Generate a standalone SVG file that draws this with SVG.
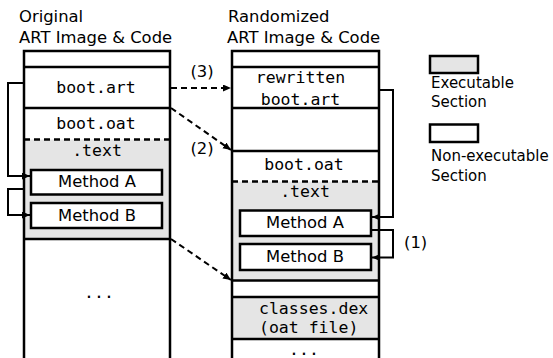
<svg xmlns="http://www.w3.org/2000/svg" width="553" height="358" viewBox="0 0 553 358">
<defs>
<marker id="ah" markerUnits="userSpaceOnUse" markerWidth="10" markerHeight="8" refX="8" refY="3.5" orient="auto">
<path d="M0,0 L8,3.5 L0,7 z" fill="#000"/>
</marker>
<style>
.sans{font-family:"DejaVu Sans","Liberation Sans",sans-serif;font-size:16.4px;fill:#000}
.leg{font-family:"DejaVu Sans","Liberation Sans",sans-serif;font-size:15px;fill:#000}
.mono{font-family:"DejaVu Sans Mono","Liberation Mono",monospace;font-size:16.5px;fill:#000}
.mid{text-anchor:middle}
.box{stroke:#000;stroke-width:2.5;fill:none}
.ln{stroke:#000;stroke-width:2.5;fill:none}
.dash{stroke:#000;stroke-width:2.5;stroke-dasharray:6,4;fill:none}
.gray{fill:#e5e5e5}
.meth{stroke:#000;stroke-width:2.5;fill:#fff}
.conn{stroke:#000;stroke-width:2;fill:none}
.dconn{stroke:#000;stroke-width:2;fill:none;stroke-dasharray:6,4}
</style>
</defs>
<rect width="553" height="358" fill="#fff"/>

<g id="title-original">
<text class="sans" x="19" y="21.5">Original</text>
<text class="sans" x="19" y="42.5">ART Image &amp; Code</text>
</g>
<g id="title-randomized">
<text class="sans" x="228" y="21.5">Randomized</text>
<text class="sans" x="227" y="42.5">ART Image &amp; Code</text>
</g>

<g id="original-image">
<rect class="gray" x="24" y="139.5" width="146" height="99.5"/>
<path class="box" d="M24,360 V51 H170 V360"/>
<line class="ln" x1="24" y1="67" x2="170" y2="67"/>
<line class="ln" x1="24" y1="108" x2="170" y2="108"/>
<line class="dash" x1="24" y1="139.5" x2="170" y2="139.5"/>
<line class="ln" x1="24" y1="239" x2="170" y2="239"/>
<text class="mono mid" x="96" y="93">boot.art</text>
<text class="mono mid" x="96" y="129">boot.oat</text>
<text class="mono mid" x="97" y="156">.text</text>
<text class="mono mid" x="99" y="298">...</text>
</g>
<g id="orig-method-a">
<rect class="meth" x="31" y="170" width="131" height="24.5"/>
<text class="sans mid" x="97" y="187">Method A</text>
</g>
<g id="orig-method-b">
<rect class="meth" x="31" y="203" width="131" height="25"/>
<text class="sans mid" x="97" y="220.5">Method B</text>
</g>

<g id="randomized-image">
<rect class="gray" x="232" y="181.5" width="147" height="99"/>
<rect class="gray" x="232" y="297" width="147" height="42"/>
<path class="box" d="M232,360 V51 H379 V360"/>
<line class="ln" x1="232" y1="67" x2="379" y2="67"/>
<line class="ln" x1="232" y1="108" x2="379" y2="108"/>
<line class="ln" x1="232" y1="151" x2="379" y2="151"/>
<line class="dash" x1="232" y1="181.5" x2="379" y2="181.5"/>
<line class="ln" x1="232" y1="280.5" x2="379" y2="280.5"/>
<line class="ln" x1="232" y1="297" x2="379" y2="297"/>
<line class="ln" x1="232" y1="339" x2="379" y2="339"/>
<text class="mono mid" x="300.5" y="83">rewritten</text>
<text class="mono mid" x="300.5" y="105">boot.art</text>
<text class="mono mid" x="304" y="170">boot.oat</text>
<text class="mono mid" x="305" y="197">.text</text>
<text class="mono" x="259" y="313.5">classes.dex</text>
<text class="mono" x="259" y="333">(oat file)</text>
<text class="mono mid" x="304" y="355">...</text>
</g>
<g id="rand-method-a">
<rect class="meth" x="240" y="210.5" width="131" height="25.5"/>
<text class="sans mid" x="305" y="228">Method A</text>
</g>
<g id="rand-method-b">
<rect class="meth" x="240" y="244" width="131" height="26"/>
<text class="sans mid" x="305" y="261.5">Method B</text>
</g>

<g id="legend">
<rect class="gray" x="430" y="56" width="48" height="17" stroke="#000" stroke-width="2.5"/>
<text class="leg" x="431" y="88">Executable</text>
<text class="leg" x="431" y="107">Section</text>
<rect x="430" y="124.5" width="48" height="17.5" fill="#fff" stroke="#000" stroke-width="2.5"/>
<text class="leg" x="431" y="160.5">Non-executable</text>
<text class="leg" x="431" y="180.5">Section</text>
</g>

<g id="connectors">
<path class="conn" d="M24,83 H8 V176 H30" marker-end="url(#ah)"/>
<path class="conn" d="M24,189 H8 V215 H30" marker-end="url(#ah)"/>
<path class="conn" d="M379,90 H393 V217 H372" marker-end="url(#ah)"/>
<path class="conn" d="M371,230 H393 V257.5 H372" marker-end="url(#ah)"/>
<line class="dconn" x1="171" y1="88" x2="231" y2="88" marker-end="url(#ah)"/>
<line class="dconn" x1="171" y1="108" x2="231" y2="150" marker-end="url(#ah)"/>
<line class="dconn" x1="171" y1="239" x2="231" y2="280" marker-end="url(#ah)"/>
<text class="sans mid" x="202" y="77">(3)</text>
<text class="sans mid" x="202" y="154">(2)</text>
<text class="sans" x="404" y="248">(1)</text>
</g>
</svg>
